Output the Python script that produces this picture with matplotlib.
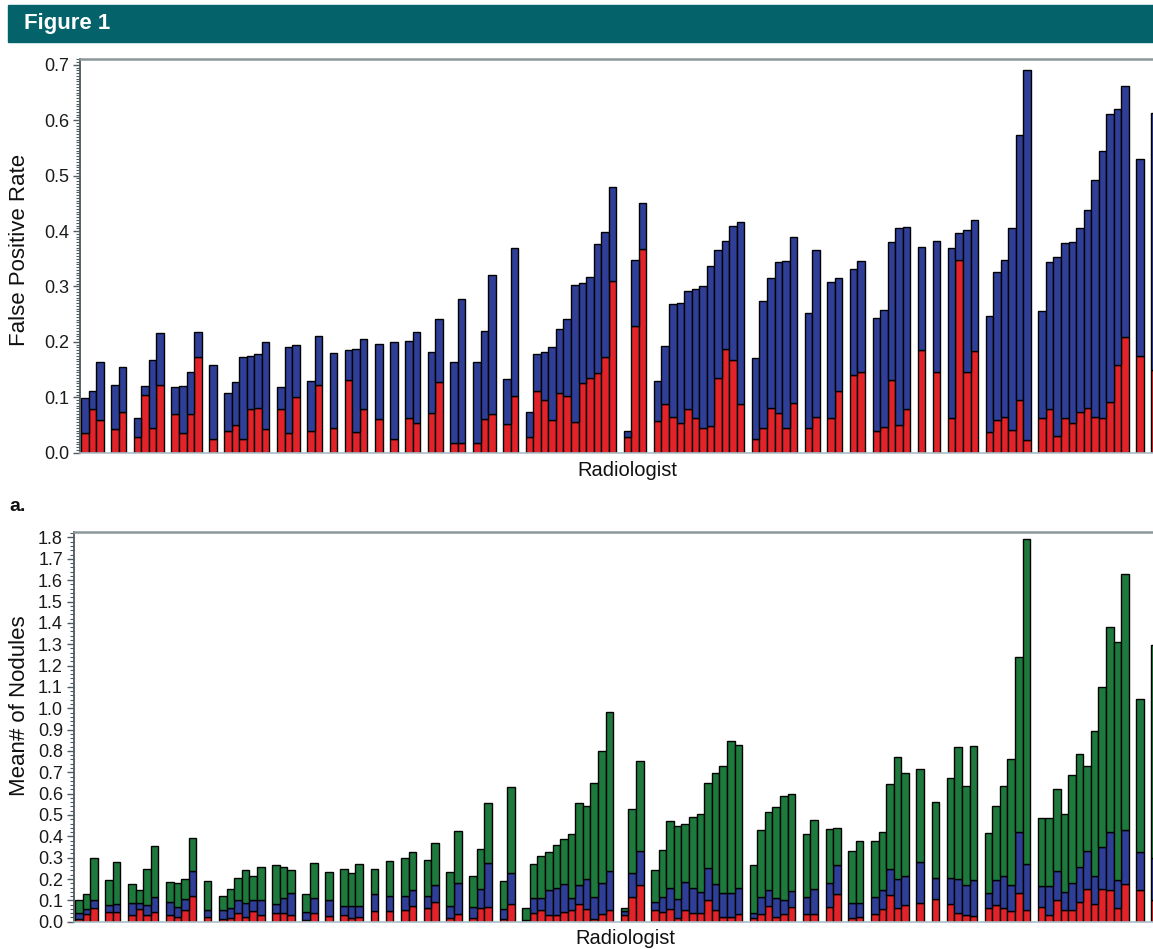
import numpy as np
import matplotlib
matplotlib.use("Agg")
import matplotlib.pyplot as plt
from matplotlib.patches import Rectangle
from matplotlib.ticker import MultipleLocator

plt.rcParams['font.family'] = ['Liberation Sans', 'DejaVu Sans']

# radiologists are grouped; one empty slot between groups
group_sizes = [3, 2, 4, 4, 1, 6, 3, 2, 1, 3, 1, 1, 2, 2, 2, 3, 2, 12, 3, 12,
               6, 2, 2, 2, 5, 1, 1, 4, 6, 12, 1, 1]

# panel a: false positive rate (total height and red part)
fp_total = [0.098, 0.112, 0.163, 0.123, 0.155, 0.063, 0.120, 0.167, 0.216,
            0.119, 0.120, 0.146, 0.217, 0.158, 0.108, 0.128, 0.173, 0.175,
            0.178, 0.199, 0.119, 0.191, 0.194, 0.129, 0.211, 0.180, 0.185,
            0.188, 0.206, 0.197, 0.200, 0.202, 0.217, 0.181, 0.241, 0.163,
            0.278, 0.163, 0.220, 0.321, 0.133, 0.370, 0.074, 0.179, 0.181,
            0.191, 0.223, 0.241, 0.303, 0.306, 0.318, 0.376, 0.398, 0.480,
            0.039, 0.348, 0.450, 0.129, 0.193, 0.268, 0.270, 0.291, 0.295,
            0.300, 0.337, 0.366, 0.382, 0.409, 0.416, 0.171, 0.274, 0.316,
            0.345, 0.346, 0.389, 0.253, 0.365, 0.308, 0.316, 0.331, 0.346,
            0.244, 0.258, 0.381, 0.406, 0.408, 0.372, 0.382, 0.369, 0.396,
            0.402, 0.420, 0.246, 0.327, 0.348, 0.406, 0.574, 0.691, 0.256,
            0.344, 0.353, 0.378, 0.381, 0.405, 0.438, 0.492, 0.544, 0.611,
            0.621, 0.662, 0.530, 0.613]
fp_red = [0.035, 0.079, 0.059, 0.043, 0.073, 0.029, 0.104, 0.045, 0.123,
          0.070, 0.036, 0.070, 0.172, 0.024, 0.039, 0.050, 0.024, 0.078,
          0.081, 0.042, 0.079, 0.035, 0.100, 0.040, 0.123, 0.045, 0.132,
          0.037, 0.078, 0.060, 0.024, 0.063, 0.053, 0.072, 0.127, 0.017,
          0.018, 0.017, 0.060, 0.069, 0.052, 0.102, 0.028, 0.112, 0.095,
          0.059, 0.108, 0.102, 0.055, 0.126, 0.134, 0.143, 0.173, 0.310,
          0.029, 0.229, 0.367, 0.057, 0.088, 0.065, 0.053, 0.078, 0.062,
          0.044, 0.048, 0.134, 0.187, 0.167, 0.087, 0.024, 0.045, 0.081,
          0.072, 0.045, 0.090, 0.045, 0.064, 0.063, 0.112, 0.140, 0.146,
          0.040, 0.047, 0.132, 0.050, 0.079, 0.185, 0.146, 0.062, 0.348,
          0.145, 0.184, 0.038, 0.059, 0.065, 0.041, 0.096, 0.023, 0.063,
          0.078, 0.030, 0.063, 0.053, 0.073, 0.080, 0.064, 0.062, 0.091,
          0.158, 0.208, 0.175, 0.150]

# panel b: mean number of nodules, cumulative tops of red, blue, green
nod_red = [0.014, 0.038, 0.066, 0.045, 0.047, 0.030, 0.058, 0.030, 0.047,
           0.030, 0.024, 0.055, 0.121, 0.024, 0.011, 0.019, 0.042, 0.024,
           0.050, 0.031, 0.039, 0.042, 0.031, 0.006, 0.039, 0.027, 0.030,
           0.019, 0.024, 0.050, 0.050, 0.053, 0.072, 0.066, 0.094, 0.016,
           0.034, 0.019, 0.063, 0.070, 0.011, 0.082, 0.003, 0.039, 0.053,
           0.030, 0.030, 0.047, 0.053, 0.085, 0.061, 0.014, 0.034, 0.055,
           0.031, 0.118, 0.171, 0.055, 0.045, 0.061, 0.019, 0.055, 0.039,
           0.039, 0.100, 0.053, 0.024, 0.024, 0.034, 0.019, 0.034, 0.074,
           0.024, 0.038, 0.071, 0.038, 0.034, 0.071, 0.129, 0.016, 0.024,
           0.038, 0.058, 0.125, 0.063, 0.078, 0.086, 0.105, 0.082, 0.042,
           0.031, 0.027, 0.066, 0.078, 0.063, 0.050, 0.136, 0.053, 0.071,
           0.031, 0.100, 0.055, 0.055, 0.092, 0.155, 0.082, 0.152, 0.147,
           0.063, 0.176, 0.149, 0.100]
nod_blue = [0.039, 0.058, 0.100, 0.078, 0.081, 0.089, 0.089, 0.078, 0.118,
            0.092, 0.071, 0.108, 0.238, 0.055, 0.055, 0.066, 0.102, 0.086,
            0.102, 0.102, 0.081, 0.113, 0.136, 0.045, 0.110, 0.100, 0.074,
            0.074, 0.074, 0.129, 0.121, 0.121, 0.149, 0.121, 0.172, 0.074,
            0.180, 0.070, 0.152, 0.277, 0.061, 0.227, 0.006, 0.113, 0.110,
            0.147, 0.157, 0.176, 0.110, 0.171, 0.202, 0.118, 0.180, 0.238,
            0.050, 0.230, 0.332, 0.094, 0.118, 0.160, 0.105, 0.187, 0.157,
            0.140, 0.250, 0.176, 0.133, 0.133, 0.157, 0.042, 0.118, 0.149,
            0.113, 0.102, 0.144, 0.118, 0.152, 0.183, 0.265, 0.086, 0.086,
            0.118, 0.149, 0.245, 0.198, 0.212, 0.280, 0.207, 0.207, 0.202,
            0.171, 0.196, 0.133, 0.196, 0.212, 0.171, 0.418, 0.270, 0.165,
            0.168, 0.238, 0.139, 0.183, 0.254, 0.332, 0.215, 0.351, 0.418,
            0.194, 0.431, 0.328, 0.300]
nod_green = [0.102, 0.132, 0.300, 0.194, 0.280, 0.176, 0.149, 0.249, 0.353,
             0.188, 0.183, 0.199, 0.390, 0.191, 0.121, 0.155, 0.204, 0.241,
             0.212, 0.254, 0.266, 0.257, 0.241, 0.129, 0.273, 0.234, 0.246,
             0.227, 0.270, 0.246, 0.285, 0.300, 0.328, 0.290, 0.368, 0.235,
             0.426, 0.215, 0.340, 0.555, 0.191, 0.630, 0.066, 0.270, 0.306,
             0.328, 0.360, 0.387, 0.410, 0.555, 0.540, 0.649, 0.800, 0.981,
             0.063, 0.528, 0.751, 0.243, 0.337, 0.473, 0.447, 0.458, 0.492,
             0.505, 0.650, 0.696, 0.729, 0.845, 0.826, 0.266, 0.430, 0.513,
             0.536, 0.588, 0.599, 0.411, 0.478, 0.434, 0.439, 0.329, 0.376,
             0.376, 0.418, 0.647, 0.770, 0.697, 0.716, 0.560, 0.674, 0.818,
             0.638, 0.821, 0.414, 0.541, 0.635, 0.760, 1.241, 1.795, 0.484,
             0.484, 0.622, 0.505, 0.685, 0.787, 0.729, 0.893, 1.100, 1.382,
             1.309, 1.628, 1.041, 1.296]

RED = '#e3232a'
BLUE = '#2f3f98'
GREEN = '#1d7a3c'

# slot positions: groups separated by one empty slot
x = []
pos = 0
for g in group_sizes:
    for k in range(g):
        x.append(pos)
        pos += 1
    pos += 1
x = np.array(x)

fp_total = np.array(fp_total)
fp_red = np.array(fp_red)
nod_red = np.array(nod_red)
nod_blue = np.array(nod_blue)
nod_green = np.array(nod_green)

fig = plt.figure(figsize=(11.53, 9.49), dpi=100)

# header band
fig.patches.append(Rectangle((8 / 1153, 1 - 42 / 949), 1, 37 / 949,
                             transform=fig.transFigure, color='#04626a', zorder=0))
fig.text(24 / 1153, 1 - 24 / 949, 'Figure 1', color='white', fontsize=16,
         fontweight='bold', va='center', ha='left',
         family=['Liberation Sans Narrow', 'Liberation Sans', 'DejaVu Sans'])
fig.text(9 / 1153, 1 - 506 / 949, 'a.', fontsize=14, fontweight='bold',
         va='center', ha='left', color='#111111')

bar_kw = dict(width=1.0, edgecolor='black', linewidth=1.0)


def style_axes(ax, ymax, major, minor):
    ax.set_xlim(-0.63, 141.7)
    ax.set_ylim(0, ymax)
    ax.yaxis.set_major_locator(MultipleLocator(major))
    ax.yaxis.set_minor_locator(MultipleLocator(minor))
    ax.yaxis.set_major_formatter(matplotlib.ticker.FormatStrFormatter('%.1f'))
    ax.set_xticks([])
    ax.tick_params(axis='y', which='major', length=5, width=1.0,
                   color='#4d5a5e', labelsize=13, labelcolor='#1a1a1a', pad=3)
    ax.tick_params(axis='y', which='minor', length=3, width=0.8, color='#4d5a5e')
    ax.spines['right'].set_visible(False)
    ax.spines['left'].set_color('#4d5a5e')
    ax.spines['left'].set_linewidth(1.3)
    ax.spines['top'].set_color('#8a969a')
    ax.spines['top'].set_linewidth(1.8)
    ax.spines['bottom'].set_color('#a9bec6')
    ax.spines['bottom'].set_linewidth(1.2)


# panel a
ax1 = fig.add_axes([80 / 1153, 1 - 452.7 / 949, 1 - 80 / 1153, 393.4 / 949])
ax1.bar(x, fp_red, color=RED, **bar_kw)
ax1.bar(x, fp_total - fp_red, bottom=fp_red, color=BLUE, **bar_kw)
style_axes(ax1, 0.71, 0.1, 0.005)
ax1.set_ylabel('False Positive Rate', fontsize=16, color='#111111')
ax1.yaxis.set_label_coords(-0.047, 0.515)
ax1.set_xlabel('Radiologist', fontsize=14.5, color='#111111')
ax1.xaxis.set_label_coords(0.51, -0.022)

# panel b
ax2 = fig.add_axes([74 / 1153, 1 - 921.7 / 949, 1 - 74 / 1153, 390 / 949])
ax2.bar(x, nod_red, color=RED, **bar_kw)
ax2.bar(x, nod_blue - nod_red, bottom=nod_red, color=BLUE, **bar_kw)
ax2.bar(x, nod_green - nod_blue, bottom=nod_blue, color=GREEN, **bar_kw)
style_axes(ax2, 1.827, 0.1, 0.02)
ax2.set_ylabel('Mean# of Nodules', fontsize=16, color='#111111')
ax2.yaxis.set_label_coords(-0.041, 0.555)
ax2.set_xlabel('Radiologist', fontsize=14.5, color='#111111')
ax2.xaxis.set_label_coords(0.511, -0.02)

fig.savefig('out.png', dpi=100)
